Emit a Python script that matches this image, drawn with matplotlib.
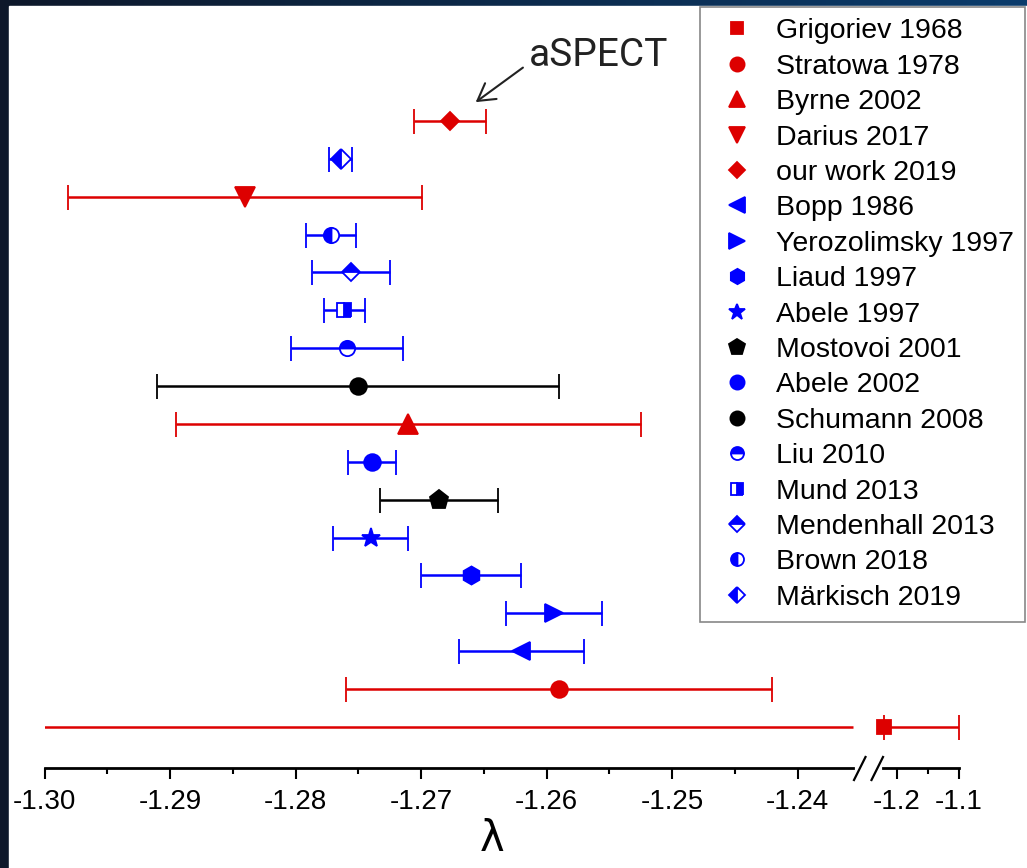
import numpy as np
import matplotlib.pyplot as plt
from matplotlib.lines import Line2D
from matplotlib.patches import Rectangle

plt.rcParams['font.family'] = ['Liberation Sans', 'DejaVu Sans']

# measurements, listed from the bottom row to the top row
labels = ['Grigoriev 1968', 'Stratowa 1978', 'Bopp 1986', 'Yerozolimsky 1997',
          'Liaud 1997', 'Abele 1997', 'Mostovoi 2001', 'Abele 2002', 'Byrne 2002',
          'Schumann 2008', 'Liu 2010', 'Mund 2013', 'Mendenhall 2013', 'Brown 2018',
          'Darius 2017', 'Märkisch 2019', 'our work 2019']
values = [-1.22, -1.259, -1.262, -1.2594, -1.266, -1.274, -1.2686, -1.2739, -1.271,
          -1.275, -1.2759, -1.2761, -1.2756, -1.2772, -1.284, -1.2764, -1.2677]
errors = [0.12, 0.017, 0.005, 0.0038, 0.004, 0.003, 0.0047, 0.0019, 0.0185,
          0.016, 0.0045, 0.0016, 0.0031, 0.0020, 0.0141, 0.0009, 0.0029]
colors = ['#dd0000', '#dd0000', '#0000ff', '#0000ff', '#0000ff', '#0000ff', 'black',
          '#0000ff', '#dd0000', 'black', '#0000ff', '#0000ff', '#0000ff', '#0000ff',
          '#dd0000', '#0000ff', '#dd0000']
markers = ['s', 'o', '<', '>', 'h', '*', 'p', 'o', '^', 'o', 'o', 's', 'D', 'o', 'v', 'D', 'D']
sizes = [9.5, 12, 13, 13, 13, 14, 14, 12, 14, 12, 11, 10, 9.5, 11, 14, 10, 9.5]
fills = ['full', 'full', 'full', 'full', 'full', 'full', 'full', 'full', 'full', 'full',
         'top', 'right', 'top', 'left', 'full', 'left', 'full']

legend_order = ['Grigoriev 1968', 'Stratowa 1978', 'Byrne 2002', 'Darius 2017',
                'our work 2019', 'Bopp 1986', 'Yerozolimsky 1997', 'Liaud 1997',
                'Abele 1997', 'Mostovoi 2001', 'Abele 2002', 'Schumann 2008',
                'Liu 2010', 'Mund 2013', 'Mendenhall 2013', 'Brown 2018', 'Märkisch 2019']

major_ticks = [-1.30, -1.29, -1.28, -1.27, -1.26, -1.25, -1.24, -1.2, -1.1]
major_labels = ['-1.30', '-1.29', '-1.28', '-1.27', '-1.26', '-1.25', '-1.24', '-1.2', '-1.1']
minor_ticks = [-1.295, -1.285, -1.275, -1.265, -1.255, -1.245, -1.15]

# broken x axis: the part right of the break is squeezed
LEFT_END = -1.2356
RIGHT_START = -1.2222
JUMP = 0.0024
SQUEEZE = 0.0496


def fwd(x):
    x = np.asarray(x, float)
    return np.where(x <= LEFT_END, x, LEFT_END + JUMP + (x - RIGHT_START) * SQUEEZE)


def inv(u):
    u = np.asarray(u, float)
    right = (u - LEFT_END - JUMP) / SQUEEZE + RIGHT_START
    return np.where(u <= LEFT_END, u, np.maximum(right, LEFT_END))


fig = plt.figure(figsize=(10.27, 8.68), dpi=100)

# dark slide background with the white picture on it
bg = fig.add_axes([0, 0, 1, 1], zorder=-5)
grad = np.linspace(0, 1, 256)
c0 = np.array([14, 24, 42]) / 255
c1 = np.array([10, 60, 108]) / 255
img = c0[None, :] * (1 - grad[:, None]) + c1[None, :] * grad[:, None]
bg.imshow(img[None, :, :], extent=[0, 1, 0, 1], aspect='auto')
bg.add_patch(Rectangle((9 / 1027, 0), 1, 1 - 6 / 868, color='white'))
bg.set_xlim(0, 1)
bg.set_ylim(0, 1)
bg.axis('off')

ax = fig.add_axes([44.5 / 1027, 100 / 868, 914.5 / 1027, 754 / 868])
ax.patch.set_alpha(0)
ax.set_xscale('function', functions=(fwd, inv))

rows = np.arange(len(labels))
for i in rows:
    v, e, c = values[i], errors[i], colors[i]
    style = dict(fmt=markers[i], color=c, ms=sizes[i], mec=c, mfc=c,
                 fillstyle=fills[i], markerfacecoloralt='white', mew=1.3,
                 elinewidth=1.8, capsize=9, capthick=2)
    if v > RIGHT_START and v - e < LEFT_END:
        # bar crossing the axis break: draw it in two pieces
        ax.errorbar(v, i, xerr=[[0], [e]], **style)
        ax.hlines(i, v - e, LEFT_END, color=c, lw=1.8)
    else:
        ax.errorbar(v, i, xerr=e, **style)

ax.set_xlim(-1.30, -1.10)
ax.set_ylim(-1.0825, 18.825)
ax.set_yticks([])
for s in ['left', 'right', 'top', 'bottom']:
    ax.spines[s].set_visible(False)

xt = ax.get_xaxis_transform()
ax.plot([-1.30, LEFT_END], [0, 0], color='black', lw=2, transform=xt, clip_on=False)
ax.plot([RIGHT_START, -1.10], [0, 0], color='black', lw=2, transform=xt, clip_on=False)
ax.plot([LEFT_END], [0], ls='none', marker=[(0, -1), (1, 1)], ms=18, mew=1.6,
        color='black', transform=xt, clip_on=False)
ax.plot([RIGHT_START], [0], ls='none', marker=[(-1, -1), (0, 1)], ms=18, mew=1.6,
        color='black', transform=xt, clip_on=False)

ax.set_xticks(major_ticks)
ax.set_xticklabels(major_labels)
ax.set_xticks(minor_ticks, minor=True)
ax.tick_params(axis='x', which='major', direction='out', length=8, width=1.5,
               labelsize=20, pad=7)
ax.tick_params(axis='x', which='minor', direction='out', length=4.5, width=1.5)

ax.set_xlabel('λ', fontsize=30, family='DejaVu Sans')
ax.xaxis.set_label_coords(0.489, -0.066)

top = labels.index('our work 2019')
ax.annotate('aSPECT', xy=(values[top], top), xytext=(57, 47), textcoords='offset points',
            ha='left', va='center', fontsize=28, color='#222222',
            family=['Roboto', 'Liberation Sans'],
            arrowprops=dict(arrowstyle='->,head_length=0.6,head_width=0.35',
                            color='#222222', lw=1.5, shrinkA=3, shrinkB=23,
                            relpos=(0, 0.3), mutation_scale=20))

handles = []
for name in legend_order:
    k = labels.index(name)
    handles.append(Line2D([], [], ls='none', marker=markers[k], ms=sizes[k] * 0.85,
                          color=colors[k], mec=colors[k], mfc=colors[k],
                          fillstyle=fills[k], markerfacecoloralt='white', mew=1.3))
leg = fig.legend(handles, legend_order, loc='upper right',
                 bbox_to_anchor=(1025 / 1027, 1 - 7 / 868), bbox_transform=fig.transFigure,
                 fontsize=20.5, labelspacing=0.33, handlelength=1.8, handletextpad=0.45,
                 borderpad=0.4, borderaxespad=0, fancybox=False, framealpha=1,
                 edgecolor='#888888')
leg.get_frame().set_linewidth(1.2)

fig.savefig('out.png', dpi=100)
